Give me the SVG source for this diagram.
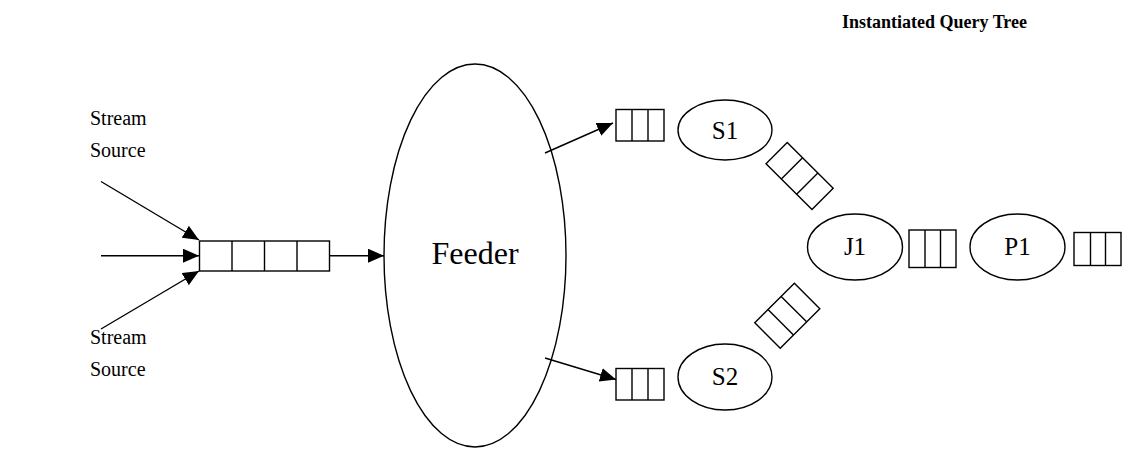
<svg xmlns="http://www.w3.org/2000/svg" width="1122" height="450" viewBox="0 0 1122 450">
  <style>
    .shape { fill: #fff; stroke: #000; stroke-width: 1.4; }
    .cell { fill: none; stroke: #000; stroke-width: 1.4; }
    .edge { fill: none; stroke: #000; stroke-width: 1.4; }
    .lbl { font-family: "Liberation Serif", "Times New Roman", serif; fill: #000; }
    .title { font-family: "Liberation Serif", "Times New Roman", serif; font-weight: bold; font-size: 18px; fill: #000; }
  </style>
  <defs>
    <marker id="arrow" viewBox="0 0 16 14" refX="16" refY="7" markerWidth="16" markerHeight="14" markerUnits="userSpaceOnUse" orient="auto">
      <path d="M0,0 L16,7 L0,14 Z" fill="#000"/>
    </marker>
  </defs>

  <rect width="1122" height="450" fill="#fff"/>

  <text class="title" x="842" y="28">Instantiated Query Tree</text>

  <!-- stream sources -->
  <g id="source-top">
    <text class="lbl" x="90" y="125" font-size="20">Stream</text>
    <text class="lbl" x="90" y="157" font-size="20">Source</text>
  </g>
  <g id="source-bottom">
    <text class="lbl" x="90" y="344" font-size="20">Stream</text>
    <text class="lbl" x="90" y="376" font-size="20">Source</text>
  </g>

  <!-- input buffer, four slots -->
  <g id="input-queue">
    <rect class="shape" x="199.5" y="241" width="130" height="30"/>
    <path class="cell" d="M232,241 V271 M264.5,241 V271 M297,241 V271"/>
  </g>

  <g id="feeder">
    <ellipse class="shape" cx="475" cy="255.5" rx="91" ry="191.5"/>
    <text class="lbl" x="475" y="264" font-size="32" text-anchor="middle">Feeder</text>
  </g>

  <g id="queue-s1-in">
    <rect class="shape" x="616" y="109.5" width="48" height="31.5"/>
    <path class="cell" d="M632,109.5 V141 M648,109.5 V141"/>
  </g>
  <g id="queue-s2-in">
    <rect class="shape" x="616" y="368.5" width="48" height="31.5"/>
    <path class="cell" d="M632,368.5 V400 M648,368.5 V400"/>
  </g>

  <g id="s1">
    <ellipse class="shape" cx="725" cy="130" rx="47" ry="30"/>
    <text class="lbl" x="725" y="139" font-size="25" text-anchor="middle">S1</text>
  </g>
  <g id="s2">
    <ellipse class="shape" cx="725" cy="377" rx="47" ry="33"/>
    <text class="lbl" x="725" y="385" font-size="25" text-anchor="middle">S2</text>
  </g>

  <g id="queue-s1-j1" transform="translate(799.6,176) rotate(45)">
    <rect class="shape" x="-32.5" y="-15" width="65" height="30"/>
    <path class="cell" d="M-10.8,-15 V15 M10.8,-15 V15"/>
  </g>
  <g id="queue-s2-j1" transform="translate(787.3,315.7) rotate(-45)">
    <rect class="shape" x="-28" y="-18" width="56" height="36"/>
    <path class="cell" d="M-9.3,-18 V18 M9.3,-18 V18"/>
  </g>

  <g id="j1">
    <ellipse class="shape" cx="855" cy="247" rx="47.5" ry="33"/>
    <text class="lbl" x="855" y="255" font-size="25" text-anchor="middle">J1</text>
  </g>

  <g id="queue-j1-p1">
    <rect class="shape" x="909" y="230" width="47" height="37.5"/>
    <path class="cell" d="M925,230 V267.5 M940.5,230 V267.5"/>
  </g>

  <g id="p1">
    <ellipse class="shape" cx="1017.5" cy="247" rx="47.5" ry="33"/>
    <text class="lbl" x="1017.5" y="255" font-size="25" text-anchor="middle">P1</text>
  </g>

  <g id="queue-p1-out">
    <rect class="shape" x="1074" y="232.5" width="47" height="33"/>
    <path class="cell" d="M1090.5,232.5 V265.5 M1105.5,232.5 V265.5"/>
  </g>

  <g id="connectors">
    <line class="edge" x1="101" y1="181.5" x2="199" y2="240" marker-end="url(#arrow)"/>
    <line class="edge" x1="101" y1="255.7" x2="199" y2="255.7" marker-end="url(#arrow)"/>
    <line class="edge" x1="101" y1="329" x2="199" y2="271" marker-end="url(#arrow)"/>
    <line class="edge" x1="329.5" y1="255.7" x2="384" y2="255.7" marker-end="url(#arrow)"/>
    <line class="edge" x1="545" y1="153" x2="613" y2="123" marker-end="url(#arrow)"/>
    <line class="edge" x1="545" y1="358" x2="616" y2="379.5" marker-end="url(#arrow)"/>
  </g>
</svg>
